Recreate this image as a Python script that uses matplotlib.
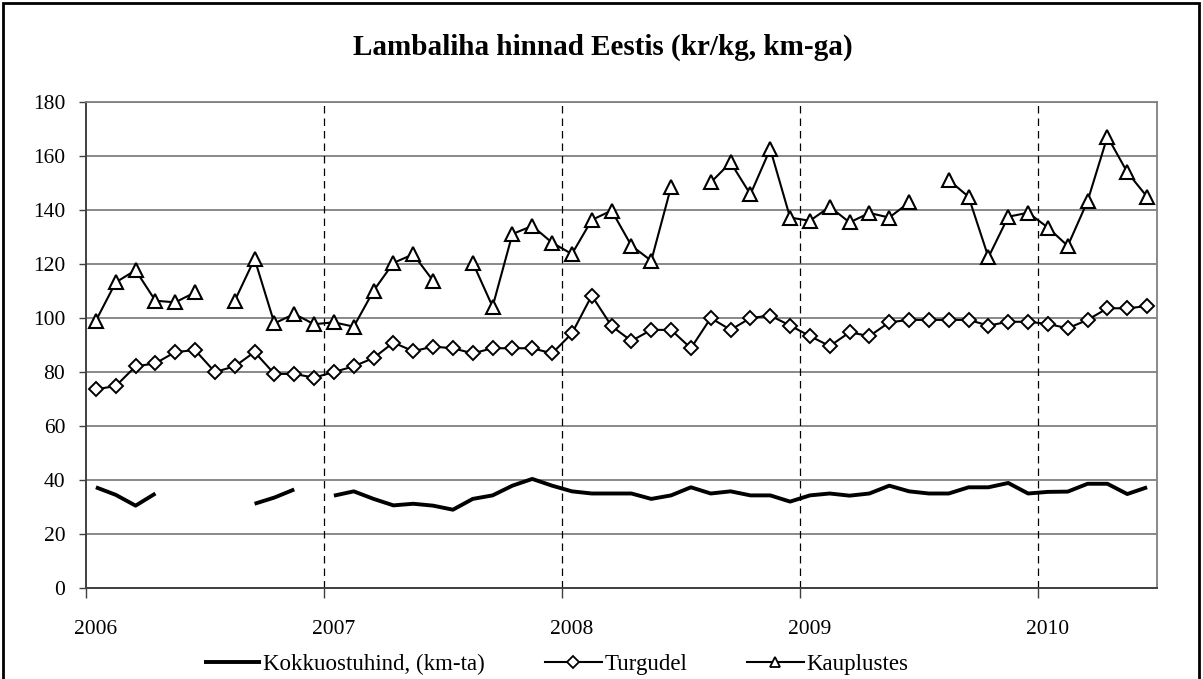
import numpy as np
import matplotlib
matplotlib.use("Agg")
import matplotlib.pyplot as plt
from matplotlib.lines import Line2D

nan = np.nan

# Monthly data, Jan 2006 .. Jun 2010
years = ["2006", "2007", "2008", "2009", "2010"]

kokkuostuhind = [37.3, 34.5, 30.5, 35.0, nan, nan, nan, nan, 31.2, 33.5, 36.5, nan,
                 34.2, 35.8, 33.0, 30.6, 31.2, 30.5, 29.0, 33.0, 34.3, 37.9, 40.4, 37.9,
                 35.8, 35.0, 35.0, 35.0, 33.0, 34.3, 37.3, 35.0, 35.8, 34.3, 34.3, 32.0,
                 34.3, 35.0, 34.2, 35.0, 37.9, 35.8, 35.0, 35.0, 37.3, 37.3, 38.9, 35.0,
                 35.6, 35.7, 38.6, 38.6, 34.8, 37.3]

turgudel = [73.6, 74.8, 82.1, 83.2, 87.4, 88.1, 80.0, 82.1, 87.4, 79.3, 79.3, 77.9,
            80.0, 82.1, 85.2, 90.9, 87.7, 89.4, 88.8, 86.9, 88.8, 88.8, 88.8, 86.9,
            94.3, 108.3, 97.0, 91.5, 95.6, 95.6, 88.8, 100.0, 95.6, 100.0, 100.9, 97.2,
            93.3, 89.6, 94.7, 93.3, 98.4, 99.3, 99.3, 99.3, 99.3, 97.2, 98.6, 98.6,
            97.8, 96.2, 99.3, 103.6, 103.6, 104.4]

kauplustes = [99.0, 113.2, 117.7, 106.4, 105.8, 109.5, nan, 106.4, 121.9, 98.0, 101.5, 97.7,
              98.4, 96.8, 110.1, 120.4, 123.6, 113.8, nan, 120.5, 104.2, 131.1, 134.1, 127.9,
              123.7, 136.3, 139.8, 126.8, 121.2, 148.6, nan, 150.2, 157.6, 145.8, 162.6, 137.2,
              136.0, 141.2, 135.4, 138.9, 137.2, 142.8, nan, 151.1, 144.9, 122.5, 137.5, 139.0,
              133.5, 126.7, 143.3, 167.2, 154.0, 144.9]

plt.rcParams['font.family'] = ['Liberation Serif', 'DejaVu Serif']

W, H = 1203, 679
fig = plt.figure(figsize=(W / 100, H / 100), dpi=100)
ax = fig.add_axes([86 / W, 1 - 588 / H, (1157 - 86) / W, (588 - 102) / H])

x = np.arange(len(kauplustes))

ax.plot(x, kokkuostuhind, color='black', lw=2.8, solid_capstyle='butt', zorder=4)
ax.plot(x, turgudel, color='black', lw=1.5, marker='D', ms=7.5, mfc='white',
        mec='black', mew=1.4, zorder=5)
ax.plot(x, kauplustes, color='black', lw=1.5, marker='^', ms=10, mfc='white',
        mec='black', mew=1.5, zorder=5)

n = len(kauplustes)
ax.set_xlim(-0.5, n - 0.5)
ax.set_ylim(0, 180)
ax.set_yticks(np.arange(0, 181, 20))
ax.grid(axis='y', color='#808080', lw=1.3, zorder=1)

bounds = [12 * i - 0.5 for i in range(len(years))]
for b in bounds[1:]:
    ax.axvline(b, color='black', lw=0.9, ls=(0, (6, 4)), zorder=2)

ax.set_xticks(bounds)
ax.set_xticklabels([])
ax.tick_params(axis='x', which='major', length=7, width=1, color='#404040', direction='out')
ax.set_xticks([12 * i for i in range(len(years))], minor=True)
ax.set_xticklabels(years, minor=True)
ax.tick_params(axis='x', which='minor', length=0, pad=23, labelsize=15.5)
ax.tick_params(axis='y', length=5, width=1, color='#404040', direction='out', pad=10, labelsize=15.5)

for s in ['left', 'bottom']:
    ax.spines[s].set_color('#404040')
    ax.spines[s].set_linewidth(1.4)
ax.spines['bottom'].set_zorder(3)
for s in ['top', 'right']:
    ax.spines[s].set_color('#808080')
    ax.spines[s].set_linewidth(1.3)

fig.text(603 / W, 1 - 47 / H, "Lambaliha hinnad Eestis (kr/kg, km-ga)",
         ha='center', va='center', fontsize=21, fontweight='bold')

handles = [
    Line2D([], [], color='black', lw=2.8, solid_capstyle='butt'),
    Line2D([], [], color='black', lw=1.5, marker='D', ms=6, mfc='white', mec='black', mew=1.3),
    Line2D([], [], color='black', lw=1.5, marker='^', ms=7, mfc='white', mec='black', mew=1.3),
]
labels = ["Kokkuostuhind, (km-ta)", "Turgudel", "Kauplustes"]
fig.legend(handles, labels, loc='center', bbox_to_anchor=(556 / W, 1 - 664 / H),
           ncol=3, frameon=False, fontsize=16.5, handlelength=2.5, handletextpad=0.1,
           columnspacing=2.6, numpoints=1, borderaxespad=0, borderpad=0)

# outer frame
fig.add_artist(plt.Rectangle((3 / W, -0.05), (W - 7) / W, 1.05 - 3 / H,
                             transform=fig.transFigure, fill=False, ec='black', lw=2))

fig.savefig('out.png', dpi=100)
